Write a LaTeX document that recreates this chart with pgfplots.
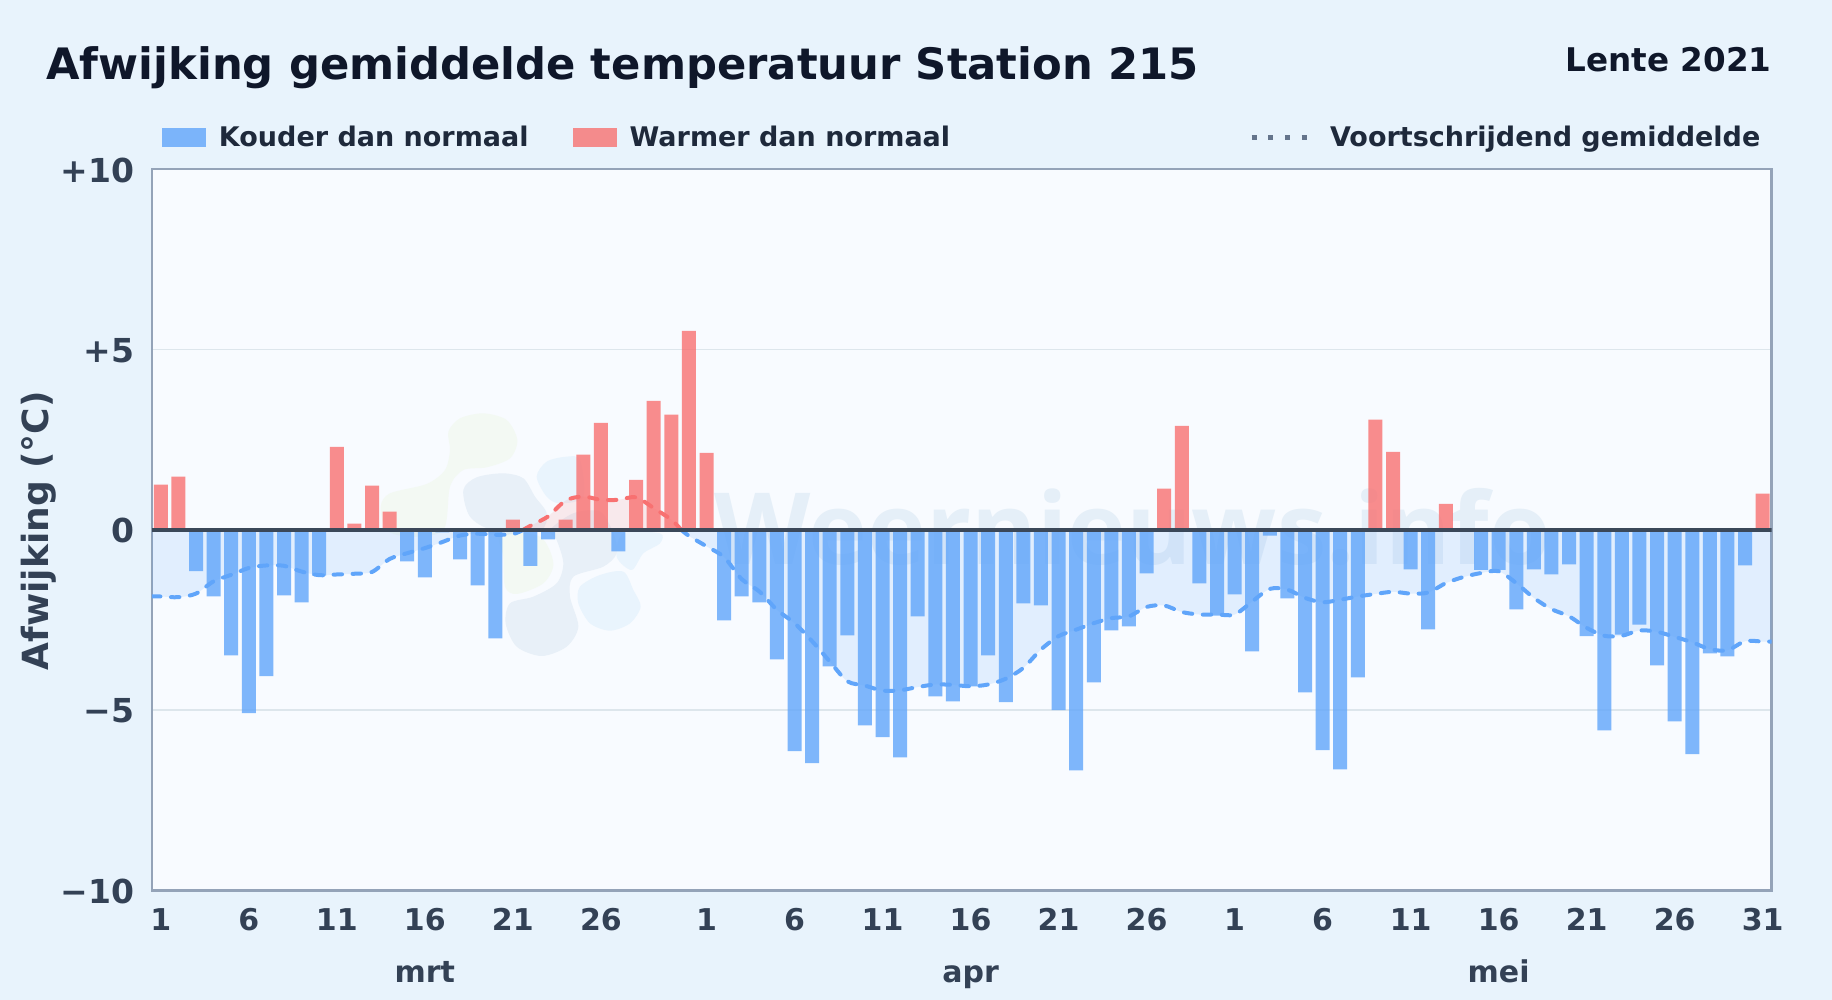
\documentclass[border=0pt]{standalone}
\usepackage{fontspec}
\setmainfont{DejaVu Sans}
\newfontfamily\wmfont{Open Sans}
\usepackage{pgfplots}
\usepackage{pgfplotstable}
\pgfplotsset{compat=1.18}

\definecolor{pagebg}{HTML}{E8F3FC}
\definecolor{plotbg}{HTML}{F8FBFF}
\definecolor{coldc}{HTML}{60A5FA}
\definecolor{warmc}{HTML}{F87171}
\definecolor{titlec}{HTML}{0F172A}
\definecolor{legc}{HTML}{1E293B}
\definecolor{tickc}{HTML}{334155}
\definecolor{zeroc}{HTML}{3B4859}
\definecolor{framec}{HTML}{94A3B8}
\definecolor{gridc}{HTML}{DDE6EC}
\definecolor{dotc}{HTML}{64748B}
\definecolor{blobgreen}{HTML}{F3F9F3}
\definecolor{blobgrey}{HTML}{E8F0F8}
\definecolor{blobblue}{HTML}{E9F4FD}
\definecolor{wmc}{HTML}{E5EFF8}

% day 1 = 1 March, day 32 = 1 April, day 62 = 1 May
\pgfplotstableread{
x y
3 -1.15
4 -1.85
5 -3.48
6 -5.08
7 -4.06
8 -1.82
9 -2.01
10 -1.27
15 -0.88
16 -1.32
17 -0.07
18 -0.82
19 -1.54
20 -3.01
22 -1.00
23 -0.27
27 -0.60
33 -2.51
34 -1.85
35 -2.01
36 -3.59
37 -6.14
38 -6.47
39 -3.79
40 -2.93
41 -5.42
42 -5.75
43 -6.31
44 -2.40
45 -4.62
46 -4.76
47 -4.34
48 -3.48
49 -4.78
50 -2.04
51 -2.10
52 -5.00
53 -6.67
54 -4.23
55 -2.79
56 -2.68
57 -1.21
60 -1.49
61 -2.38
62 -1.79
63 -3.37
64 -0.16
65 -1.90
66 -4.51
67 -6.11
68 -6.64
69 -4.09
72 -1.10
73 -2.76
76 -1.11
77 -1.11
78 -2.21
79 -1.10
80 -1.24
81 -0.96
82 -2.95
83 -5.56
84 -2.91
85 -2.63
86 -3.76
87 -5.31
88 -6.22
89 -3.43
90 -3.51
91 -0.99
}\coldbars

\pgfplotstableread{
x y
1 1.25
2 1.47
11 2.30
12 0.17
13 1.22
14 0.50
21 0.28
24 0.28
25 2.08
26 2.96
28 1.38
29 3.57
30 3.19
31 5.51
32 2.13
58 1.14
59 2.88
70 3.05
71 2.16
74 0.72
92 1.00
}\warmbars

\pgfplotstableread{
x y
0.5 -1.85
1 -1.85
2 -1.87
3 -1.77
4 -1.43
5 -1.25
6 -1.06
7 -0.99
8 -1.00
9 -1.16
10 -1.26
11 -1.24
12 -1.22
13 -1.17
14 -0.81
15 -0.65
16 -0.51
17 -0.34
18 -0.16
19 -0.11
20 -0.14
21 -0.12
21.6 0
}\avgA

\pgfplotstableread{
x y
21.6 0
22 0.11
23 0.37
24 0.81
25 0.92
26 0.83
27 0.83
28 0.90
29 0.60
30 0.28
30.56 0
}\avgB

\pgfplotstableread{
x y
30.56 0
31 -0.17
32 -0.46
33 -0.76
34 -1.37
35 -1.71
36 -2.22
37 -2.59
38 -3.09
39 -3.65
40 -4.20
41 -4.32
42 -4.46
43 -4.45
44 -4.36
45 -4.29
46 -4.30
47 -4.34
48 -4.29
49 -4.13
50 -3.83
51 -3.32
52 -2.95
53 -2.77
54 -2.59
55 -2.45
56 -2.40
57 -2.14
58 -2.10
59 -2.28
60 -2.35
61 -2.35
62 -2.35
63 -1.99
64 -1.64
65 -1.66
66 -1.89
67 -2.01
68 -1.94
69 -1.85
70 -1.78
71 -1.72
72 -1.77
73 -1.74
74 -1.48
75 -1.31
76 -1.20
77 -1.15
78 -1.48
79 -1.89
80 -2.20
81 -2.40
82 -2.72
83 -2.94
84 -2.94
85 -2.79
86 -2.83
87 -2.97
88 -3.12
89 -3.31
90 -3.34
91 -3.09
92 -3.10
92.5 -3.10
}\avgC

\tikzset{avgline/.style={smooth, line width=2pt, line cap=round, dash pattern=on 4.2pt off 5.3pt}}

\begin{document}
\begin{tikzpicture}
\path[use as bounding box, fill=pagebg] (0pt,0pt) rectangle (916pt,500pt);
% everything below in reference pixels, y downward
\begin{scope}[shift={(0pt,500pt)}, x=0.5pt, y=-0.5pt]
\fill[plotbg] (152,169) rectangle (1771.5,890.5);
% faint logo behind the chart
\begin{scope}[shift={(360,390)}, x=0.16667pt, y=-0.16667pt]
\fill[blobgreen] plot[smooth cycle] coordinates {(300,85)(370,70)(440,90)(472,150)(450,205)(380,232)(310,240)(270,290)(250,420)(150,440)(80,420)(62,350)(90,310)(200,282)(255,240)(270,180)(265,125)};
\fill[blobgreen] plot[smooth cycle] coordinates {(420,430)(540,440)(580,520)(550,580)(470,612)(435,590)(430,500)};
\fill[blobblue] plot[smooth cycle] coordinates {(530,260)(560,215)(620,200)(660,210)(670,320)(600,340)(560,320)};
\fill[blobblue] plot[smooth cycle] coordinates {(790,430)(900,430)(900,460)(850,490)(815,540)(770,500)};
\fill[blobblue] plot[smooth cycle] coordinates {(660,590)(720,555)(790,545)(820,600)(842,650)(810,700)(750,722)(690,700)(655,640)};
\fill[blobgrey] plot[smooth cycle] coordinates {(310,300)(350,262)(430,250)(490,265)(525,320)(560,370)(540,420)(400,420)(330,380)};
\fill[blobgrey] plot[smooth cycle] coordinates {(570,420)(640,370)(720,365)(760,430)(770,490)(730,530)(640,560)(630,620)(655,710)(620,770)(545,798)(470,770)(437,700)(450,640)(520,620)(590,580)(610,520)(590,450)};
\end{scope}
\node[anchor=base west, inner sep=0pt, text=wmc, font=\wmfont\bfseries\fontsize{49.8}{58}\selectfont] at (714,565) {Weernieuws.info};
\node[anchor=base west, inner sep=0pt, text=titlec, font=\bfseries\fontsize{21.65}{26}\selectfont] at (46,80) {Afwijking gemiddelde temperatuur Station 215};
\node[anchor=base east, inner sep=0pt, text=titlec, font=\bfseries\fontsize{16.3}{20}\selectfont] at (1772,72) {Lente 2021};
\end{scope}

\begin{axis}[
    at={(76pt,54.75pt)},
    anchor=south west,
    scale only axis,
    width=809.75pt,
    height=360.75pt,
    xmin=0.5, xmax=92.5,
    ymin=-10, ymax=10,
    clip mode=individual,
    axis line style={draw=framec, line width=1.2pt},
    major tick length=0pt,
    ymajorgrids=true,
    grid style={line width=0.8pt, draw=gridc},
    ytick={-10,-5,0,5,10},
    yticklabels={−10,−5,0,+5,+10},
    xtick={1,6,11,16,21,26,32,37,42,47,52,57,62,67,72,77,82,87,92},
    xticklabels={1,6,11,16,21,26,1,6,11,16,21,26,1,6,11,16,21,26,31},
    ticklabel style={text=tickc},
    xticklabel style={anchor=base, inner sep=0pt, yshift=-20.25pt, font=\bfseries\fontsize{15}{18}\selectfont},
    yticklabel style={anchor=east, inner sep=0pt, xshift=-8.75pt, yshift=-0.5pt, font=\bfseries\fontsize{16.5}{20}\selectfont},
    every axis y label/.style={at={(axis description cs:-0.0698,0.4985)}, rotate=90, anchor=center},
    ylabel={Afwijking (°C)},
    ylabel style={text=tickc, font=\bfseries\fontsize{18}{21}\selectfont},
    legend columns=3,
    legend cell align=left,
    legend style={
        at={(axis description cs:0.00617,1.0431)}, anchor=west,
        draw=none, fill=none, inner sep=0pt, outer sep=0pt,
        text=legc, font=\bfseries\fontsize{13.5}{16}\selectfont,
        nodes={inner sep=0pt},
        /tikz/column 1/.style={column sep=6.5pt},
        /tikz/column 2/.style={column sep=22pt},
        /tikz/column 3/.style={column sep=6.5pt},
        /tikz/column 4/.style={column sep=149.5pt},
        /tikz/column 5/.style={column sep=10.3pt},
    },
]
\addplot[forget plot, smooth, draw=none, fill=coldc, fill opacity=0.15] table[x=x, y=y] {\avgA} \closedcycle;
\addplot[forget plot, smooth, draw=none, fill=warmc, fill opacity=0.13] table[x=x, y=y] {\avgB} \closedcycle;
\addplot[forget plot, smooth, draw=none, fill=coldc, fill opacity=0.15] table[x=x, y=y] {\avgC} \closedcycle;

\addplot[ybar, bar shift=0pt, bar width=7pt, draw=none, fill=coldc, fill opacity=0.8,
    legend image code/.code={\fill[coldc, fill opacity=0.8] (0pt,-4.75pt) rectangle (22pt,4.75pt);}]
    table[x=x, y=y] {\coldbars};
\addlegendentry{Kouder dan normaal}
\addplot[ybar, bar shift=0pt, bar width=7pt, draw=none, fill=warmc, fill opacity=0.8,
    legend image code/.code={\fill[warmc, fill opacity=0.8] (0pt,-4.75pt) rectangle (22pt,4.75pt);}]
    table[x=x, y=y] {\warmbars};
\addlegendentry{Warmer dan normaal}

\addplot[forget plot, avgline, draw=coldc] table[x=x, y=y] {\avgA};
\addplot[forget plot, avgline, draw=warmc] table[x=x, y=y] {\avgB};
\addplot[forget plot, avgline, draw=coldc] table[x=x, y=y] {\avgC};

\addlegendimage{legend image code/.code={\draw[dotc, line width=2.5pt, dash pattern=on 2.5pt off 5.83pt] (0pt,0pt) -- (27.6pt,0pt);}}
\addlegendentry{Voortschrijdend gemiddelde}

\addplot[forget plot, draw=zeroc, line width=2pt] coordinates {(0.5,0) (92.5,0)};

\node[anchor=base, inner sep=0pt, text=tickc, font=\bfseries\fontsize{15}{18}\selectfont, yshift=-46.2pt] at (axis cs:16,-10) {mrt};
\node[anchor=base, inner sep=0pt, text=tickc, font=\bfseries\fontsize{15}{18}\selectfont, yshift=-46.2pt] at (axis cs:47,-10) {apr};
\node[anchor=base, inner sep=0pt, text=tickc, font=\bfseries\fontsize{15}{18}\selectfont, yshift=-46.2pt] at (axis cs:77,-10) {mei};
\end{axis}
\end{tikzpicture}
\end{document}
